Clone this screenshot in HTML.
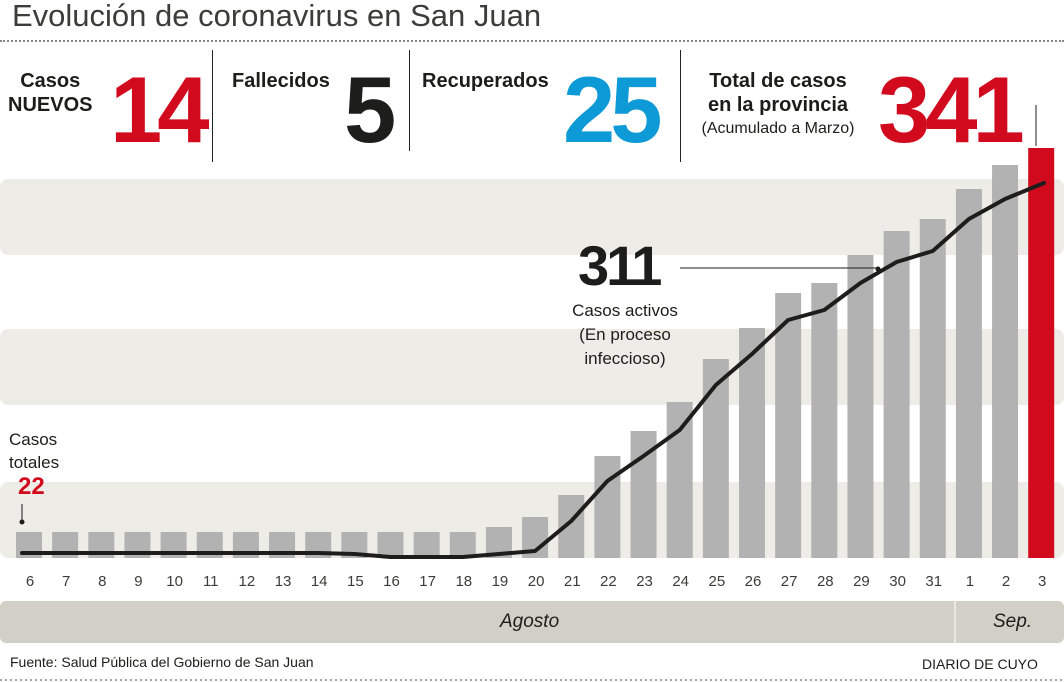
<!DOCTYPE html><html><head><meta charset="utf-8"><style>
body{margin:0;width:1064px;height:682px;background:#fff;overflow:hidden;position:relative;font-family:"Liberation Sans",sans-serif}
.a{position:absolute;white-space:nowrap}
.lb{font-weight:bold;font-size:20px;color:#1d1d1b;line-height:24px}
.big{font-weight:bold;font-size:94px;letter-spacing:-5px;line-height:1}
</style></head><body>
<div class="a" style="left:12px;top:-2px;font-size:31px;color:#3c3c3b">Evolución de coronavirus en San Juan</div>
<div class="a" style="left:0;top:40px;width:1064px;border-top:2px dotted #888"></div>
<div class="a lb" style="left:8px;top:69px;text-align:center">Casos<br>NUEVOS</div>
<div class="a big" style="left:110px;top:63px;color:#d20a1e">14</div>
<div class="a" style="left:212px;top:50px;height:112px;border-left:1px solid #222"></div>
<div class="a lb" style="left:232px;top:69px">Fallecidos</div>
<div class="a big" style="left:344px;top:63px;color:#1d1d1b">5</div>
<div class="a" style="left:409px;top:50px;height:101px;border-left:1px solid #222"></div>
<div class="a lb" style="left:422px;top:69px">Recuperados</div>
<div class="a big" style="left:563px;top:63px;color:#0d9ad6">25</div>
<div class="a" style="left:680px;top:50px;height:112px;border-left:1px solid #222"></div>
<div class="a lb" style="left:696px;top:69px;text-align:center;width:164px">Total de casos<br>en la provincia</div>
<div class="a" style="left:696px;top:120px;width:164px;text-align:center;font-size:16px;color:#1d1d1b">(Acumulado a Marzo)</div>
<div class="a big" style="left:878px;top:63px;color:#d20a1e">341</div>
<svg class="a" style="left:0;top:0" width="1064" height="682">
<rect x="0" y="179" width="1064" height="76" rx="8" fill="#eeece6"/>
<rect x="0" y="329" width="1064" height="76" rx="8" fill="#eeece6"/>
<rect x="0" y="482" width="1064" height="76" rx="8" fill="#eeece6"/>
<g fill="#b2b2b2" id="bars"></g>
<polyline id="ln" fill="none" stroke="#1d1d1b" stroke-width="4" stroke-linejoin="round" stroke-linecap="round"/>
<line x1="1036" y1="105" x2="1036" y2="146" stroke="#1d1d1b" stroke-width="1"/>
<line x1="680" y1="268" x2="876" y2="268" stroke="#1d1d1b" stroke-width="1"/>
<circle cx="878" cy="269" r="2.5" fill="#1d1d1b"/>
<line x1="22" y1="504" x2="22" y2="520" stroke="#1d1d1b" stroke-width="1"/>
<circle cx="22" cy="522" r="2.5" fill="#1d1d1b"/>
<rect x="0" y="601" width="1064" height="42" rx="6" fill="#d2cfc7"/>
<line x1="955" y1="570" x2="955" y2="643" stroke="#fff" stroke-width="1"/>
<line x1="0" y1="680" x2="1064" y2="680" stroke="#888" stroke-width="1.5" stroke-dasharray="2,3"/>
<g id="lab" font-size="15" fill="#3c3c3b" text-anchor="middle" font-family="Liberation Sans"></g>
</svg>
<div class="a" style="left:578px;top:238px;font-weight:bold;font-size:56px;letter-spacing:-3px;color:#1d1d1b;line-height:1">311</div>
<div class="a" style="left:540px;top:299px;width:170px;text-align:center;font-size:17px;line-height:24px;color:#1d1d1b">Casos activos<br>(En proceso<br>infeccioso)</div>
<div class="a" style="left:9px;top:428px;font-size:17px;line-height:23px;color:#1d1d1b">Casos<br>totales</div>
<div class="a" style="left:18px;top:475px;font-weight:bold;font-size:24px;color:#d20a1e;line-height:1">22</div>
<div class="a" style="left:500px;top:611px;font-size:19px;font-style:italic;color:#1d1d1b">Agosto</div>
<div class="a" style="left:993px;top:611px;font-size:19px;font-style:italic;color:#1d1d1b">Sep.</div>
<div class="a" style="left:10px;top:654px;font-size:14px;color:#1d1d1b">Fuente: Salud Pública del Gobierno de San Juan</div>
<div class="a" style="left:922px;top:656px;font-size:14px;color:#1d1d1b">DIARIO DE CUYO</div>
<script>
var labs=[6,7,8,9,10,11,12,13,14,15,16,17,18,19,20,21,22,23,24,25,26,27,28,29,30,31,1,2,3];
var tops=[532,532,532,532,532,532,532,532,532,532,532,532,532,527,517,495,456,431,402,359,328,293,283,255,231,219,189,165,148];
var ly=[553,553,553,553,553,553,553,553,553,554,557,557,557,554,551,521,481,456,430,385,354,320,310,283,262,251,219,199,183];
var g=document.getElementById('bars'),L=document.getElementById('lab'),pts=[],ns='http://www.w3.org/2000/svg';
for(var i=0;i<29;i++){var x=16+36.15*i;var r=document.createElementNS(ns,'rect');r.setAttribute('x',x);r.setAttribute('y',tops[i]);r.setAttribute('width',26);r.setAttribute('height',558-tops[i]);if(i==28)r.setAttribute('fill','#d20a1e');g.appendChild(r);
pts.push((x+13)+','+ly[i]);var t=document.createElementNS(ns,'text');t.setAttribute('x',x+14);t.setAttribute('y',586);t.textContent=labs[i];L.appendChild(t);}
pts[0]=(22)+','+ly[0];pts[28]=(1044)+','+ly[28];
document.getElementById('ln').setAttribute('points',pts.join(' '));
</script>
</body></html>
